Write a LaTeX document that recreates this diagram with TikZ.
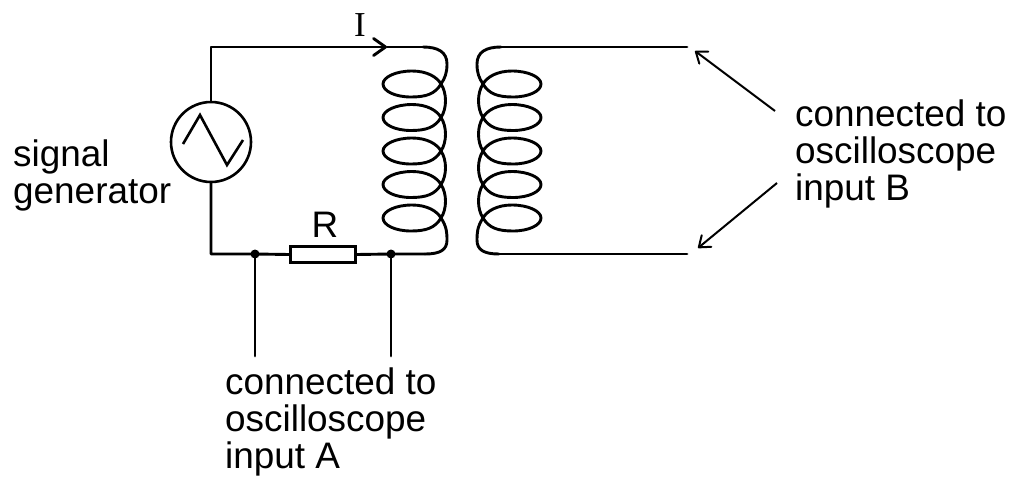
\documentclass[tikz,border=0pt]{standalone}
\usepackage{fontspec}
\setmainfont{Liberation Sans}
\newfontfamily\seriffont{Liberation Serif}
\usetikzlibrary{arrows.meta}
\tikzset{
  wire/.style={line width=2.9pt, line cap=round, line join=round},
  pointer/.style={line width=2pt, -{Straight Barb[length=10pt,width=15pt,round]}},
  lbl/.style={font=\fontsize{36.9}{37}\selectfont, inner sep=0pt, align=left},
  dot/.style={circle, fill, inner sep=0pt, minimum size=9pt},
  resistor/.style={draw, line width=2.2pt, rectangle, inner sep=0pt, minimum width=65pt, minimum height=16pt},
  source/.style={draw, line width=2.6pt, circle, inner sep=0pt, minimum size=80pt}
}
\newcommand{\coilpath}{%
  (423,47) .. controls (438,47) and (447,52) .. (447,64)
  .. controls (447,73) and (445,78) .. (441,84)
  \foreach \yy in {84,117.5,151,184.5} {
    .. controls (435,\yy+10) and (426,\yy+13) .. (411,\yy+13)
    .. controls (395,\yy+13) and (383,\yy+7) .. (383,\yy)
    .. controls (383,\yy-7) and (396,\yy-13) .. (412,\yy-13)
    .. controls (427,\yy-13) and (437,\yy-7) .. (441,\yy)
    .. controls (447,\yy+9) and (447,\yy+24.5) .. (441,\yy+33.5)
  }
  .. controls (435,228) and (426,231) .. (411,231)
  .. controls (395,231) and (383,225) .. (383,218)
  .. controls (383,211) and (396,205) .. (412,205)
  .. controls (427,205) and (437,211) .. (441,218)
  .. controls (447,227) and (447,234) .. (447,240)
  .. controls (447,250) and (440,254) .. (425,254)
}
\begin{document}
\begin{tikzpicture}[x=1pt,y=-1pt]
\useasboundingbox (0,0) rectangle (1014,477);
% primary coil
\begin{scope}
  \draw[wire] \coilpath;
  \coordinate (ptop) at (423,47);
  \coordinate (pbot) at (425,254);
\end{scope}
% secondary coil (mirror image)
\begin{scope}[shift={(924,0)}, xscale=-1]
  \draw[wire] \coilpath;
  \coordinate (stop) at (423,47);
  \coordinate (sbot) at (425,254);
\end{scope}
\coordinate (send1) at (687,47);
\coordinate (send2) at (687,254);
\draw[wire] (stop) -- (send1);
\draw[wire] (sbot) -- (send2);

% signal generator
\node[source] (gen) at (211,142) {};
\draw[line width=2.6pt, line join=miter] ([shift={(-28,2)}]gen.center) -- ([shift={(-11,-27)}]gen.center) -- ([shift={(16,23)}]gen.center) -- ([shift={(32,-2)}]gen.center);

% top wire with current arrow
\coordinate (corner1) at (211,47);
\coordinate (atip) at (387,47);
\draw[wire, -{Straight Barb[length=12pt,width=17pt,round]}] (gen.north) -- (corner1) -- (atip);
\draw[wire] (atip) -- (ptop);
\node[font=\seriffont\fontsize{35}{35}\selectfont, inner sep=0pt, anchor=base] (Ilbl) at (360,36) {I};

% bottom wire with resistor
\node[resistor] (R) at (323,254.5) {};
\node[dot] (dA) at (255,254) {};
\node[dot] (dB) at (391,254) {};
\coordinate (corner2) at (211,254);
\draw[wire] (gen.south) -- (corner2) -- (dA.center) -- (R.west);
\draw[wire] (R.east) -- (dB.center) -- (pbot);
\node[lbl, anchor=base] (Rlbl) at (325,237) {R};

% leads to oscilloscope A
\coordinate (leadA) at (255,356);
\coordinate (leadB) at (391,356);
\draw[wire] (dA.center) -- (leadA);
\draw[wire] (dB.center) -- (leadB);

% labels
\node[lbl, anchor=north west] (siggen) at (13,140) {signal\\generator};
\node[lbl, anchor=north west] (inA) at (225,368) {connected to\\oscilloscope\\input A};
\node[lbl, anchor=north west] (inB) at (795,100) {connected to\\oscilloscope\\input B};

% pointers to secondary terminals
\coordinate (tailB1) at (775,111);
\coordinate (tipB1) at (695,51);
\coordinate (tailB2) at (777,183);
\coordinate (tipB2) at (698,248);
\draw[pointer] (tailB1) -- (tipB1);
\draw[pointer] (tailB2) -- (tipB2);
\end{tikzpicture}
\end{document}
